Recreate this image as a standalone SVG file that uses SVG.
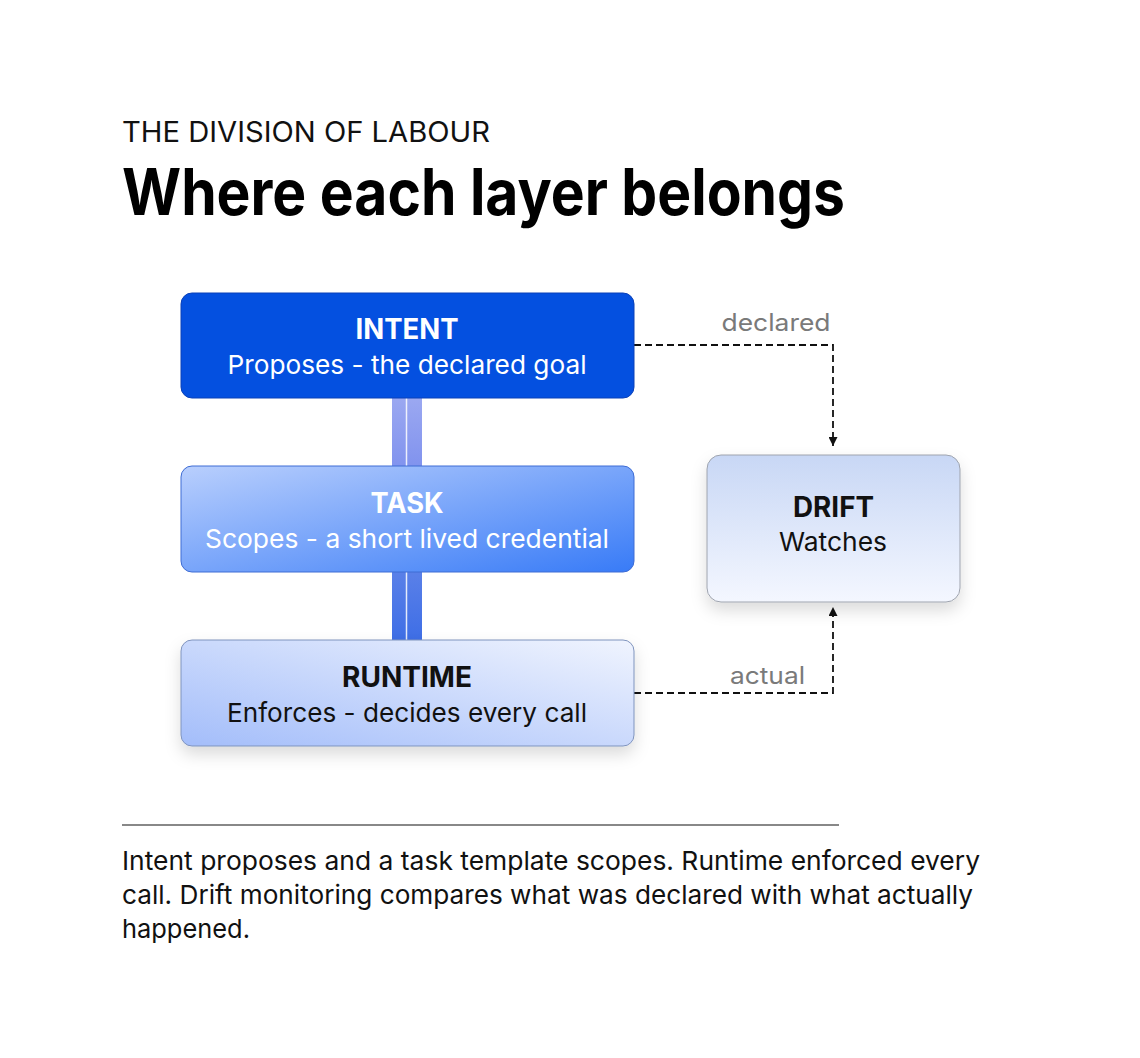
<svg xmlns="http://www.w3.org/2000/svg" width="1140" height="1058" viewBox="0 0 1140 1058">
<defs>
<style>
.f{font-family:Inter,"Noto Sans","Liberation Sans",sans-serif}
.h{font-weight:700;font-size:28px;text-anchor:middle}
.s{font-size:26px;text-anchor:middle}
.lbl{font-size:24px;fill:#7a7a7a;text-anchor:middle}
.body{font-size:26px;fill:#111}
.dash{fill:none;stroke:#111;stroke-width:1.8;stroke-dasharray:7 4}
</style>
<linearGradient id="gTask" x1="0" y1="0" x2="1" y2="1">
<stop offset="0" stop-color="#b9cffd"/>
<stop offset="1" stop-color="#387bf7"/>
</linearGradient>
<linearGradient id="gRun" x1="0" y1="1" x2="1" y2="0">
<stop offset="0" stop-color="#a3bdfa"/>
<stop offset="1" stop-color="#f0f4fe"/>
</linearGradient>
<linearGradient id="gDrift" x1="0" y1="0" x2="0" y2="1">
<stop offset="0" stop-color="#c8d7f5"/>
<stop offset="1" stop-color="#f4f7ff"/>
</linearGradient>
<linearGradient id="gBar1" x1="0" y1="0" x2="0" y2="1">
<stop offset="0" stop-color="#9ba8f1"/>
<stop offset="1" stop-color="#8193ee"/>
</linearGradient>
<linearGradient id="gBar2" x1="0" y1="0" x2="0" y2="1">
<stop offset="0" stop-color="#5a80e8"/>
<stop offset="1" stop-color="#3e6ee6"/>
</linearGradient>
<filter id="sh" x="-20%" y="-20%" width="140%" height="160%">
<feDropShadow dx="0" dy="8" stdDeviation="8" flood-color="#000" flood-opacity="0.14"/>
</filter>
<marker id="arr" viewBox="0 0 10 10" refX="10" refY="5" markerWidth="10" markerHeight="9" markerUnits="userSpaceOnUse" orient="auto">
<path d="M0,0 L10,5 L0,10 Z" fill="#111"/>
</marker>
</defs>
<rect width="1140" height="1058" fill="#fff"/>

<g id="header" class="f">
<text x="122" y="142" font-size="28" fill="#111" textLength="368" lengthAdjust="spacingAndGlyphs">THE DIVISION OF LABOUR</text>
<text x="122" y="215" font-size="64" font-weight="700" fill="#000" textLength="723" lengthAdjust="spacingAndGlyphs">Where each layer belongs</text>
</g>

<g id="bars">
<rect x="392" y="398" width="30" height="68" fill="url(#gBar1)"/>
<rect x="392" y="572" width="30" height="68" fill="url(#gBar2)"/>
<line x1="406.5" y1="398" x2="406.5" y2="466" stroke="#fff" stroke-width="1.5" opacity="0.85"/>
<line x1="406.5" y1="572" x2="406.5" y2="640" stroke="#fff" stroke-width="1.5" opacity="0.85"/>
</g>

<g id="connectors">
<path class="dash" d="M634,345 H833 V446" marker-end="url(#arr)"/>
<path class="dash" d="M634,693 H833 V607" marker-end="url(#arr)"/>
<text class="f lbl" x="776" y="331" textLength="109" lengthAdjust="spacingAndGlyphs">declared</text>
<text class="f lbl" x="767.5" y="684" textLength="75" lengthAdjust="spacingAndGlyphs">actual</text>
</g>

<g id="intent" class="f">
<rect x="181" y="293" width="453" height="105" rx="11" fill="#0450e0" stroke="#0a40b8" stroke-width="1"/>
<text class="h" x="407" y="339" fill="#fff" textLength="103" lengthAdjust="spacingAndGlyphs">INTENT</text>
<text class="s" x="407" y="374" fill="#fff" textLength="359" lengthAdjust="spacingAndGlyphs">Proposes - the declared goal</text>
</g>

<g id="task" class="f">
<rect x="181" y="466" width="453" height="106" rx="11" fill="url(#gTask)" stroke="#3e6cd4" stroke-width="1"/>
<text class="h" x="407" y="513" fill="#fff" textLength="73" lengthAdjust="spacingAndGlyphs">TASK</text>
<text class="s" x="407" y="548" fill="#fff" textLength="404" lengthAdjust="spacingAndGlyphs">Scopes - a short lived credential</text>
</g>

<g id="runtime" class="f">
<rect x="181" y="640" width="453" height="106" rx="11" fill="url(#gRun)" stroke="#7f93bd" stroke-width="1" filter="url(#sh)"/>
<text class="h" x="407" y="687" fill="#111" textLength="130" lengthAdjust="spacingAndGlyphs">RUNTIME</text>
<text class="s" x="407" y="722" fill="#111" textLength="360" lengthAdjust="spacingAndGlyphs">Enforces - decides every call</text>
</g>

<g id="drift" class="f">
<rect x="707" y="455" width="253" height="147" rx="14" fill="url(#gDrift)" stroke="#9ea3ad" stroke-width="1" filter="url(#sh)"/>
<text class="h" x="833.5" y="517" fill="#111" textLength="81" lengthAdjust="spacingAndGlyphs">DRIFT</text>
<text class="s" x="833" y="551" fill="#111" textLength="108" lengthAdjust="spacingAndGlyphs">Watches</text>
</g>

<g id="footer" class="f">
<line x1="122" y1="825" x2="839" y2="825" stroke="#888" stroke-width="2"/>
<text class="body" x="122" y="870" textLength="858" lengthAdjust="spacingAndGlyphs">Intent proposes and a task template scopes. Runtime enforced every</text>
<text class="body" x="122" y="904" textLength="851" lengthAdjust="spacingAndGlyphs">call. Drift monitoring compares what was declared with what actually</text>
<text class="body" x="122" y="938" textLength="128" lengthAdjust="spacingAndGlyphs">happened.</text>
</g>
</svg>
